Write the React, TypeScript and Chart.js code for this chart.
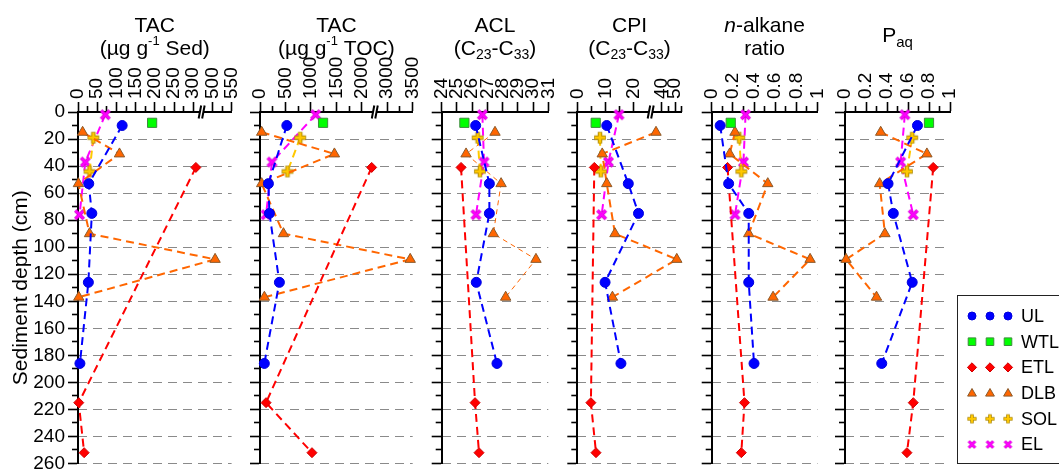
import React, { useEffect, useRef } from 'react';
import { Chart, registerables } from 'chart.js';

Chart.register(...registerables);

const FONT = '"Liberation Sans", Arial, Helvetica, sans-serif';
const W = 1059;
const H = 471;
const PLOT_TOP = 112;
const PLOT_BOTTOM = 464;
const TICK_FONT = 19;

const SERIES = ['UL', 'WTL', 'ETL', 'DLB', 'SOL', 'EL'];

// Sediment depths (cm) for each site
const depthUL = [10, 53, 75, 126, 186];
const depthWTL = [8];
const depthETL = [41, 215, 252];
const depthDLB = [15, 31, 53, 90, 109, 137];
const depthSOL = [19, 44];
const depthEL = [2, 37, 76];

// TAC (ug g-1 Sed)
const tacSedUL = [115, 28, 36, 27, 5];
const tacSedWTL = [193];
const tacSedETL = [307, 2, 16];
const tacSedDLB = [12, 108, 1, 30, 507, 2];
const tacSedSOL = [40, 30];
const tacSedEL = [71, 19, 4];

// TAC (ug g-1 TOC)
const tacTocUL = [527, 165, 185, 381, 85];
const tacTocWTL = [1239];
const tacTocETL = [2194, 119, 1021];
const tacTocDLB = [33, 1462, 33, 461, 3451, 86];
const tacTocSOL = [790, 540];
const tacTocEL = [1094, 235, 119];

// ACL (C23-C33)
const aclUL = [26.23, 27.13, 27.13, 26.27, 27.63];
const aclWTL = [25.49];
const aclETL = [25.27, 26.19, 26.45];
const aclDLB = [27.5, 25.6, 27.9, 27.39, 30.19, 28.2];
const aclSOL = [26.36, 26.51];
const aclEL = [26.67, 26.78, 26.25];

// CPI (C23-C33)
const cpiUL = [10.4, 18.0, 21.6, 9.8, 15.4];
const cpiWTL = [6.5];
const cpiETL = [6.0, 4.8, 6.6];
const cpiDLB = [35.7, 8.8, 10.4, 13.3, 51.3, 12.4];
const cpiSOL = [8.0, 8.3];
const cpiEL = [14.7, 11.0, 8.6];

// n-alkane ratio
const ratioUL = [0.08, 0.16, 0.35, 0.35, 0.4];
const ratioWTL = [0.18];
const ratioETL = [0.15, 0.31, 0.28];
const ratioDLB = [0.22, 0.17, 0.53, 0.35, 0.93, 0.58];
const ratioSOL = [0.26, 0.28];
const ratioEL = [0.32, 0.3, 0.22];

// Paq
const paqUL = [0.69, 0.41, 0.46, 0.64, 0.35];
const paqWTL = [0.8];
const paqETL = [0.84, 0.65, 0.59];
const paqDLB = [0.34, 0.78, 0.33, 0.38, 0.01, 0.3];
const paqSOL = [0.64, 0.59];
const paqEL = [0.57, 0.53, 0.65];

// Tick values (real units)
const depthMajorTicks = [0, 20, 40, 60, 80, 100, 120, 140, 160, 180, 200, 220, 240, 260];
const depthMinorTicks = [10, 30, 50, 70, 90, 110, 130, 150, 170, 190, 210, 230, 250];
const tacSedTicks = [0, 50, 100, 150, 200, 250, 300, 500, 550];
const tacSedMinor = [25, 75, 125, 175, 225, 275, 525];
const tacTocTicks = [0, 500, 1000, 1500, 2000, 3000, 3500];
const tacTocMinor = [250, 750, 1250, 1750, 3250];
const aclTicks = [24, 25, 26, 27, 28, 29, 30, 31];
const cpiTicks = [0, 10, 20, 40, 50];
const cpiMinor = [5, 15, 45, 55];
const ratioTicks = [0, 0.2, 0.4, 0.6, 0.8, 1];
const ratioMinor = [0.1, 0.3, 0.5, 0.7, 0.9];

const DEPTHS: any = { UL: depthUL, WTL: depthWTL, ETL: depthETL, DLB: depthDLB, SOL: depthSOL, EL: depthEL };

function makePlus(arm: number, w1: number, w2: number) {
  const size = Math.ceil(arm * 2 + 6);
  const c = document.createElement('canvas');
  c.width = size; c.height = size;
  const g = c.getContext('2d')!;
  const m = size / 2;
  g.lineCap = 'butt';
  g.beginPath();
  g.moveTo(m, m - arm - 0.8); g.lineTo(m, m + arm + 0.8);
  g.moveTo(m - arm - 0.8, m); g.lineTo(m + arm + 0.8, m);
  g.strokeStyle = '#B08A00'; g.lineWidth = w1; g.stroke();
  g.beginPath();
  g.moveTo(m, m - arm); g.lineTo(m, m + arm);
  g.moveTo(m - arm, m); g.lineTo(m + arm, m);
  g.strokeStyle = '#FFC800'; g.lineWidth = w2; g.stroke();
  return c;
}
function makeX(arm: number, w1: number, w2: number) {
  const size = Math.ceil(arm * 2 + 6);
  const c = document.createElement('canvas');
  c.width = size; c.height = size;
  const g = c.getContext('2d')!;
  const m = size / 2;
  g.lineCap = 'butt';
  g.beginPath();
  g.moveTo(m - arm, m - arm); g.lineTo(m + arm, m + arm);
  g.moveTo(m - arm, m + arm); g.lineTo(m + arm, m - arm);
  g.strokeStyle = '#C000C0'; g.lineWidth = w1; g.stroke();
  g.strokeStyle = '#FF00FF'; g.lineWidth = w2; g.stroke();
  return c;
}

const plusImg = makePlus(5, 4.5, 2.6);
const xImg = makeX(4.2, 3.6, 2.4);
const plusSmall = makePlus(3.8, 3.6, 2);
const xSmall = makeX(3.2, 3, 2);

const STYLE: any = {
  UL: { line: '#0000FF', point: 'circle', radius: 5, fill: '#0000FF', stroke: '#0000DD', lw: 2 },
  WTL: { line: '#00CC00', point: 'rect', radius: 6.5, fill: '#00FF00', stroke: '#3C8C3C', lw: 2 },
  ETL: { line: '#FF0000', point: 'rectRot', radius: 5, fill: '#FF0000', stroke: '#D00000', lw: 2 },
  DLB: { line: '#FF6600', point: 'triangle', radius: 6, fill: '#FF6600', stroke: '#8B5A2B', lw: 2 },
  SOL: { line: '#FFC800', point: plusImg, radius: 6, fill: '#FFC800', stroke: '#B08A00', lw: 2 },
  EL: { line: '#FF00FF', point: xImg, radius: 6, fill: '#FF00FF', stroke: '#C000C0', lw: 2 },
};

const ident = (v: number) => v;

const PANELS: any[] = [
  {
    left: 78, right: 231.6,
    values: { UL: tacSedUL, WTL: tacSedWTL, ETL: tacSedETL, DLB: tacSedDLB, SOL: tacSedSOL, EL: tacSedEL },
    tf: (v: number) => (v > 400 ? v - 150 : v),
    major: tacSedTicks, minor: tacSedMinor, min: 0, max: 550, breakAt: 322,
    title: [
      { y: 31.5, segs: [{ t: 'TAC' }] },
      { y: 55, segs: [{ t: '(µg g' }, { t: '-1', size: 13, dy: -10 }, { t: ' Sed)' }] },
    ],
  },
  {
    left: 260, right: 412.7,
    values: { UL: tacTocUL, WTL: tacTocWTL, ETL: tacTocETL, DLB: tacTocDLB, SOL: tacTocSOL, EL: tacTocEL },
    tf: (v: number) => (v > 2500 ? v - 500 : v),
    major: tacTocTicks, minor: tacTocMinor, min: 0, max: 3500, breakAt: 2255,
    title: [
      { y: 31.5, segs: [{ t: 'TAC' }] },
      { y: 55, segs: [{ t: '(µg g' }, { t: '-1', size: 13, dy: -10 }, { t: ' TOC)' }] },
    ],
  },
  {
    left: 441.7, right: 548.3,
    values: { UL: aclUL, WTL: aclWTL, ETL: aclETL, DLB: aclDLB, SOL: aclSOL, EL: aclEL },
    tf: ident, major: aclTicks, minor: [], min: 24, max: 31, breakAt: null, thinDLB: true,
    title: [
      { y: 31.5, segs: [{ t: 'ACL' }] },
      { y: 55, segs: [{ t: '(C' }, { t: '23', size: 14, dy: 4 }, { t: '-C' }, { t: '33', size: 14, dy: 4 }, { t: ')' }] },
    ],
  },
  {
    left: 577.3, right: 681.7,
    values: { UL: cpiUL, WTL: cpiWTL, ETL: cpiETL, DLB: cpiDLB, SOL: cpiSOL, EL: cpiEL },
    tf: (v: number) => (v <= 28 ? v : 29.8 + (v - 40) * 0.47),
    major: cpiTicks, minor: cpiMinor, min: 0, max: 55, breakAt: 25.9,
    title: [
      { y: 31.5, segs: [{ t: 'CPI' }] },
      { y: 55, segs: [{ t: '(C' }, { t: '23', size: 14, dy: 4 }, { t: '-C' }, { t: '33', size: 14, dy: 4 }, { t: ')' }] },
    ],
  },
  {
    left: 711.7, right: 817.5,
    values: { UL: ratioUL, WTL: ratioWTL, ETL: ratioETL, DLB: ratioDLB, SOL: ratioSOL, EL: ratioEL },
    tf: ident, major: ratioTicks, minor: ratioMinor, min: 0, max: 1, breakAt: null,
    title: [
      { y: 31.5, segs: [{ t: 'n', italic: true }, { t: '-alkane' }] },
      { y: 55, segs: [{ t: 'ratio' }] },
    ],
  },
  {
    left: 845, right: 950,
    values: { UL: paqUL, WTL: paqWTL, ETL: paqETL, DLB: paqDLB, SOL: paqSOL, EL: paqEL },
    tf: ident, major: ratioTicks, minor: ratioMinor, min: 0, max: 1, breakAt: null, legend: true,
    title: [
      { y: 42, segs: [{ t: 'P' }, { t: 'aq', size: 15, dy: 5 }] },
    ],
  },
];

function segFont(s: any) {
  return `${s.italic ? 'italic ' : ''}${s.size || 21}px ${FONT}`;
}

function makeTitlePlugin(lines: any[]) {
  return {
    id: 'richTitle',
    afterDraw(chart: any) {
      const { ctx, chartArea } = chart;
      const cx = (chartArea.left + chartArea.right) / 2;
      ctx.save();
      ctx.fillStyle = '#000';
      ctx.textBaseline = 'alphabetic';
      ctx.textAlign = 'left';
      for (const line of lines) {
        let w = 0;
        for (const s of line.segs) { ctx.font = segFont(s); w += ctx.measureText(s.t).width; }
        let x = cx - w / 2;
        for (const s of line.segs) {
          ctx.font = segFont(s);
          ctx.fillText(s.t, x, line.y + (s.dy || 0));
          x += ctx.measureText(s.t).width;
        }
      }
      ctx.restore();
    },
  };
}

function makeBreakPlugin(at: number | null) {
  return {
    id: 'axisBreak',
    afterDraw(chart: any) {
      if (at === null || at === undefined) return;
      const { ctx, chartArea } = chart;
      const px = chart.scales.x.getPixelForValue(at);
      const y = chartArea.top;
      ctx.save();
      ctx.fillStyle = '#fff';
      ctx.beginPath();
      ctx.moveTo(px - 3, y + 6.5);
      ctx.lineTo(px - 0.5, y - 6.5);
      ctx.lineTo(px + 3, y - 6.5);
      ctx.lineTo(px + 0.5, y + 6.5);
      ctx.closePath();
      ctx.fill();
      ctx.strokeStyle = '#000';
      ctx.lineWidth = 2;
      ctx.beginPath();
      ctx.moveTo(px - 3, y + 6.5); ctx.lineTo(px - 0.5, y - 6.5);
      ctx.moveTo(px + 0.5, y + 6.5); ctx.lineTo(px + 3, y - 6.5);
      ctx.stroke();
      ctx.restore();
    },
  };
}

function drawLegendMarker(ctx: CanvasRenderingContext2D, key: string, x: number, y: number) {
  const st = STYLE[key];
  if (key === 'SOL' || key === 'EL') {
    const img = key === 'SOL' ? plusSmall : xSmall;
    ctx.drawImage(img, x - img.width / 2, y - img.height / 2);
    return;
  }
  ctx.fillStyle = st.fill;
  ctx.strokeStyle = st.stroke;
  ctx.lineWidth = 1;
  ctx.beginPath();
  if (key === 'UL') ctx.arc(x, y, 4, 0, Math.PI * 2);
  if (key === 'WTL') ctx.rect(x - 3.8, y - 3.8, 7.6, 7.6);
  if (key === 'ETL') { ctx.moveTo(x, y - 4.6); ctx.lineTo(x + 4.6, y); ctx.lineTo(x, y + 4.6); ctx.lineTo(x - 4.6, y); ctx.closePath(); }
  if (key === 'DLB') { ctx.moveTo(x, y - 4.6); ctx.lineTo(x + 4.4, y + 3); ctx.lineTo(x - 4.4, y + 3); ctx.closePath(); }
  ctx.fill();
  ctx.stroke();
}

const legendPlugin = {
  id: 'siteLegend',
  afterDraw(chart: any) {
    const ctx = chart.ctx;
    ctx.save();
    ctx.fillStyle = '#fff';
    ctx.fillRect(957.5, 295.5, 130, 168);
    ctx.strokeStyle = '#222';
    ctx.lineWidth = 1;
    ctx.strokeRect(957.5, 295.5, 130, 168);
    ctx.font = `18px ${FONT}`;
    ctx.textBaseline = 'middle';
    ctx.textAlign = 'left';
    SERIES.forEach((k, i) => {
      const y = 316 + i * 25.7;
      [972, 990, 1008].forEach((x) => drawLegendMarker(ctx, k, x, y));
      ctx.fillStyle = '#000';
      ctx.fillText(k, 1021, y + 1);
    });
    ctx.restore();
  },
};

function buildConfig(p: any, idx: number) {
  const labelMap = new Map<number, string>();
  p.major.forEach((v: number) => labelMap.set(Math.round(p.tf(v) * 1000) / 1000, String(v)));
  const tMin = p.tf(p.min);
  const tMax = p.tf(p.max);
  const majorT = p.major.map((v: number) => ({ value: p.tf(v) }));
  const minorT = p.minor.map((v: number) => ({ value: p.tf(v) }));

  const datasets = SERIES.map((k) => {
    const st = STYLE[k];
    const vals = p.values[k];
    const thin = p.thinDLB && k === 'DLB';
    return {
      label: k,
      data: DEPTHS[k].map((d: number, i: number) => ({ x: p.tf(vals[i]), y: d })),
      showLine: true,
      borderColor: st.line,
      borderWidth: thin ? 1 : st.lw,
      borderDash: thin ? [5, 4] : [8, 5],
      backgroundColor: st.fill,
      pointStyle: st.point,
      pointRadius: st.radius,
      pointBackgroundColor: st.fill,
      pointBorderColor: st.stroke,
      pointBorderWidth: 1,
      tension: 0,
      clip: false,
    };
  });

  const firstPanel = idx === 0;
  const yLabelWidth = firstPanel ? p.left : 0;

  const zeroPad = (s: any) => { s.paddingLeft = 0; s.paddingRight = 0; s.paddingTop = 0; s.paddingBottom = 0; };
  const xMainFit = (s: any) => { s.height = PLOT_TOP; zeroPad(s); };
  const xZeroFit = (s: any) => { s.height = 0; zeroPad(s); };
  const yMainFit = (s: any) => { s.width = yLabelWidth; zeroPad(s); };
  const yZeroFit = (s: any) => { s.width = 0; zeroPad(s); };

  const plugins: any[] = [makeTitlePlugin(p.title), makeBreakPlugin(p.breakAt)];
  if (p.legend) plugins.push(legendPlugin);

  return {
    type: 'scatter',
    data: { datasets },
    plugins,
    options: {
      responsive: false,
      maintainAspectRatio: false,
      animation: false,
      devicePixelRatio: 1,
      events: [],
      layout: { padding: { left: p.left - yLabelWidth, right: W - p.right, top: 0, bottom: H - PLOT_BOTTOM } },
      plugins: { legend: { display: false }, tooltip: { enabled: false }, title: { display: false } },
      scales: {
        x: {
          type: 'linear', position: 'top', min: tMin, max: tMax, weight: 10,
          afterBuildTicks: (s: any) => { s.ticks = majorT.map((t: any) => ({ ...t })); },
          afterFit: xMainFit,
          ticks: {
            autoSkip: false, minRotation: 90, maxRotation: 90, padding: 3, color: '#000',
            labelOffset: TICK_FONT * 1.2,
            font: { family: FONT, size: TICK_FONT },
            callback: (v: any) => labelMap.get(Math.round(Number(v) * 1000) / 1000) ?? '',
          },
          grid: { drawOnChartArea: false, drawTicks: true, tickLength: 10, tickWidth: 1.6, tickColor: '#000', color: '#000' },
          border: { display: true, color: '#000', width: 2 },
        },
        xMinor: {
          type: 'linear', position: 'top', min: tMin, max: tMax, weight: 0,
          afterBuildTicks: (s: any) => { s.ticks = minorT.map((t: any) => ({ ...t })); },
          afterFit: xZeroFit,
          ticks: { display: false, autoSkip: false },
          grid: { drawOnChartArea: false, drawTicks: true, tickLength: 6, tickWidth: 1.6, tickColor: '#000', color: '#000' },
          border: { display: false },
        },
        y: {
          type: 'linear', position: 'left', reverse: true, min: 0, max: 260, weight: 10,
          afterBuildTicks: (s: any) => { s.ticks = depthMajorTicks.map((v) => ({ value: v })); },
          afterFit: yMainFit,
          ticks: { display: firstPanel, autoSkip: false, padding: 3, color: '#000', font: { family: FONT, size: TICK_FONT } },
          grid: { drawOnChartArea: false, drawTicks: true, tickLength: 10, tickWidth: 1.6, tickColor: '#000', color: '#000' },
          border: { display: true, color: '#000', width: 2 },
          title: firstPanel
            ? { display: true, text: 'Sediment depth (cm)', color: '#000', font: { family: FONT, size: 21 }, padding: { top: 9, bottom: 0 } }
            : { display: false },
        },
        yMinor: {
          type: 'linear', position: 'left', reverse: true, min: 0, max: 260, weight: 0,
          afterBuildTicks: (s: any) => { s.ticks = depthMinorTicks.map((v) => ({ value: v })); },
          afterFit: yZeroFit,
          ticks: { display: false, autoSkip: false },
          grid: { drawOnChartArea: false, drawTicks: true, tickLength: 6, tickWidth: 1.6, tickColor: '#000', color: '#000' },
          border: { display: false },
        },
        yGrid: {
          type: 'linear', position: 'left', reverse: true, min: 0, max: 260, weight: 0,
          afterBuildTicks: (s: any) => { s.ticks = depthMajorTicks.map((v) => ({ value: v })); },
          afterFit: yZeroFit,
          ticks: { display: false, autoSkip: false },
          grid: {
            drawOnChartArea: true, drawTicks: false, lineWidth: 1,
            color: (c: any) => (c.tick && c.tick.value === 0 ? 'rgba(0,0,0,0)' : '#8a8a8a'),
          },
          border: { display: false, dash: [9, 6] },
        },
      },
    },
  };
}

export default function App() {
  const refs = useRef<(HTMLCanvasElement | null)[]>([]);
  useEffect(() => {
    const charts = PANELS.map((p, i) => new Chart(refs.current[i] as HTMLCanvasElement, buildConfig(p, i) as any));
    return () => charts.forEach((c) => c.destroy());
  }, []);
  return (
    <div style={{ position: 'fixed', left: 0, top: 0, width: W, height: H, background: '#fff', overflow: 'hidden' }}>
      {PANELS.map((_p, i) => (
        <canvas
          key={i}
          ref={(el) => { refs.current[i] = el; }}
          width={W}
          height={H}
          style={{ position: 'absolute', left: 0, top: 0, width: W, height: H }}
        />
      ))}
    </div>
  );
}
